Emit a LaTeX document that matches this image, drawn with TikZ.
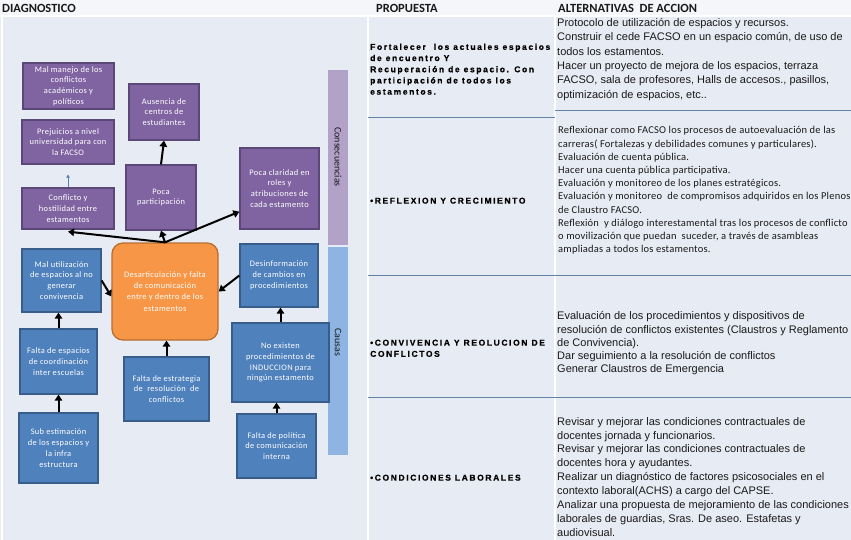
\documentclass[tikz,border=0pt]{standalone}
\usepackage{fontspec}
\setmainfont{Liberation Sans}
\newfontfamily\calfont{Carlito}
\newfontfamily\calspaced[LetterSpace=2]{Carlito}
\newfontfamily\boxfont[LetterSpace=4]{Carlito}
\newfontfamily\propfont[LetterSpace=19, FakeBold=0.5]{Liberation Sans Bold}
\usetikzlibrary{arrows.meta, positioning, calc}

\definecolor{bodybg}{RGB}{231,235,243}
\definecolor{headbg}{RGB}{245,246,249}
\definecolor{purplefill}{RGB}{128,100,162}
\definecolor{purpledraw}{RGB}{92,72,120}
\definecolor{bluefill}{RGB}{79,129,189}
\definecolor{bluedraw}{RGB}{56,93,138}
\definecolor{orangefill}{RGB}{247,150,70}
\definecolor{orangedraw}{RGB}{185,110,50}
\definecolor{lavbar}{RGB}{179,162,199}
\definecolor{bluebar}{RGB}{141,180,226}
\definecolor{rowline}{RGB}{100,130,165}
\definecolor{linkblue}{RGB}{84,128,180}
\definecolor{headdark}{RGB}{25,25,25}

\begin{document}
\begin{tikzpicture}[
    x=1pt, y=-1pt,
    every node/.style={inner sep=0pt},
    conbox/.style={
        rectangle,
        draw=purpledraw,
        fill=purplefill,
        line width=1.3pt,
        text=white,
        align=center,
        font=\boxfont\fontsize{8.4}{10.8}\selectfont
    },
    caubox/.style={
        rectangle,
        draw=bluedraw,
        fill=bluefill,
        line width=1.3pt,
        text=white,
        align=center,
        font=\boxfont\fontsize{8.4}{10.8}\selectfont
    },
    corebox/.style={
        rectangle,
        rounded corners=11pt,
        draw=orangedraw,
        fill=orangefill,
        line width=1.3pt,
        text=white,
        align=center,
        font=\boxfont\fontsize{8.4}{11.2}\selectfont
    },
    causearrow/.style={-{Triangle[length=6pt,width=7.5pt]}, line width=2pt, black},
    linkarrow/.style={-{Triangle[length=3pt,width=3.5pt]}, line width=1pt, linkblue},
    headtext/.style={anchor=base west, text=headdark,
        font=\calfont\bfseries\fontsize{12.5}{14}\selectfont},
    barlabel/.style={rotate=-90, text=headdark, font=\calfont\fontsize{10}{12}\selectfont},
    proptext/.style={anchor=north west, align=left, text=black,
        font=\propfont\fontsize{8.5}{11.2}\selectfont},
    alttext/.style={anchor=north west, align=left, text=black!90},
    sepline/.style={white, line width=1.5pt},
    rowrule/.style={rowline, line width=0.9pt}
]

% background and table
\useasboundingbox (0,0) rectangle (851,540);
\fill[bodybg] (0,0) rectangle (851,540);
\fill[headbg] (0,0) rectangle (851,16);
\draw[sepline] (0,16) -- (851,16);
\draw[sepline] (2,16) -- (2,540);
\draw[sepline] (368,16) -- (368,540);
\draw[sepline] (555,16) -- (555,540);
\draw[rowrule] (368,117) -- (555,117);
\draw[rowrule] (555,110) -- (851,110);
\draw[rowrule] (368,275) -- (851,275);
\draw[rowrule] (368,397) -- (851,397);

\node[headtext] (diaghead) at (2,13) {DIAGNOSTICO};
\node[headtext] (prophead) at (376,13) {PROPUESTA};
\node[headtext] (althead) at (558,13) {ALTERNATIVAS\ \ DE ACCION};

% side bars
\fill[lavbar] (328,70) rectangle (348,245);
\fill[bluebar] (328,247) rectangle (348,455);
\node[barlabel] (conlabel) at (338,157) {Consecuencias};
\node[barlabel] (caulabel) at (338,342) {Causas};

% consequences
\node[conbox, minimum width=91pt, minimum height=46pt] (manejo) at (68.5,86)
    {Mal manejo de los\\conflictos\\académicos y\\políticos};
\node[conbox, minimum width=70pt, minimum height=56pt] (ausencia) at (164,112)
    {Ausencia de\\centros de\\estudiantes};
\node[conbox, minimum width=92pt, minimum height=44pt] (prejuicios) at (68,142)
    {Prejuicios a nivel\\universidad para con\\la FACSO};
\node[conbox, minimum width=92pt, minimum height=41pt] (conflicto) at (68,208.5)
    {Conflicto y\\hostilidad entre\\estamentos};
\node[conbox, minimum width=70pt, minimum height=65pt] (participacion) at (161,197.5)
    {Poca\\participación};
\node[conbox, minimum width=79pt, minimum height=81pt] (claridad) at (279.5,188.5)
    {Poca claridad en\\roles y\\atribuciones de\\cada estamento};

% core problem
\node[corebox, minimum width=106pt, minimum height=97pt] (core) at (165,291.5)
    {Desarticulación y falta\\de comunicación\\entre y dentro de los\\estamentos};

% causes
\node[caubox, minimum width=79pt, minimum height=63pt] (malutil) at (61.5,280.5)
    {Mal utilización\\de espacios al no\\generar\\convivencia};
\node[caubox, minimum width=77pt, minimum height=65pt] (coordina) at (58.5,361.5)
    {Falta de espacios\\de coordinación\\inter escuelas};
\node[caubox, minimum width=79pt, minimum height=70pt] (subestima) at (58.5,448)
    {Sub estimación\\de los espacios y\\la infra\\estructura};
\node[caubox, minimum width=85pt, minimum height=64pt] (estrategia) at (166.5,389)
    {Falta de estrategia\\de\ \ resolución\ \ de\\conflictos};
\node[caubox, minimum width=78pt, minimum height=63pt] (desinfo) at (279,275.5)
    {Desinformación\\de cambios en\\procedimientos};
\node[caubox, minimum width=97pt, minimum height=79pt] (induccion) at (280.5,362.5)
    {No existen\\procedimientos de\\INDUCCION para\\ningún estamento};
\node[caubox, minimum width=79pt, minimum height=64pt] (politica) at (276.5,446)
    {Falta de política\\de comunicación\\interna};

% arrows
\draw[causearrow] (core.north) -- (participacion.south);
\draw[causearrow] (core.north) -- ([yshift=-2pt]conflicto.south);
\draw[causearrow] (core.north) -- (claridad.210);
\draw[causearrow] (participacion.north) -- (ausencia.south);
\draw[linkarrow] (conflicto.north) -- ([yshift=-10pt]prejuicios.south);
\draw[causearrow] (malutil.east) -- ([yshift=-5pt]core.west);
\draw[causearrow] (desinfo.west) -- (core.east);
\draw[causearrow] (estrategia.north) -- (estrategia.north |- core.south);
\draw[causearrow] (coordina.north) -- (coordina.north |- malutil.south);
\draw[causearrow] (subestima.north) -- (coordina.south);
\draw[causearrow] (induccion.north) -- (induccion.north |- desinfo.south);
\draw[causearrow] (politica.north) -- (politica.north |- induccion.south);

% proposals
\node[proptext] (fortalecer) at (370,43.5)
    {Fortalecer\ \ los actuales espacios\\de encuentro Y\\Recuperación de espacio. Con\\participación de todos los\\estamentos.};
\node[proptext] (reflexion) at (370,197.5) {•REFLEXION Y CRECIMIENTO};
\node[proptext] (convivencia) at (370,339.5)
    {•CONVIVENCIA Y REOLUCION DE\\CONFLICTOS};
\node[proptext] (laborales) at (370,474.5) {•CONDICIONES LABORALES};

% actions
\node[alttext, font=\fontsize{11}{14.4}\selectfont] (espacios) at (557,18)
    { Protocolo de utilización de espacios y recursos.\\
    Construir el cede FACSO en un espacio común, de uso de\\
    todos los estamentos.\\
    Hacer un proyecto de mejora de los espacios, terraza\\
    FACSO, sala de profesores, Halls de accesos., pasillos,\\
    optimización de espacios, etc..};
\node[alttext, font=\calspaced\fontsize{10.5}{13.2}\selectfont] (reflexiones) at (558,126.5)
    {Reflexionar como FACSO los procesos de autoevaluación de las\\
    carreras( Fortalezas y debilidades comunes y particulares).\\
    Evaluación de cuenta pública.\\
    Hacer una cuenta pública participativa.\\
    Evaluación y monitoreo de los planes estratégicos.\\
    Evaluación y monitoreo\ \ de compromisos adquiridos en los Plenos\\
    de Claustro FACSO.\\
    Reflexión\ \ y diálogo interestamental tras los procesos de conflicto\\
    o movilización que puedan\ \ suceder, a través de asambleas\\
    ampliadas a todos los estamentos.};
\node[alttext, font=\fontsize{11}{13.25}\selectfont] (resolucion) at (557,311.5)
    {Evaluación de los procedimientos y dispositivos de\\
    resolución de conflictos existentes (Claustros y Reglamento\\
    de Convivencia).\\
    Dar seguimiento a la resolución de conflictos\\
    Generar Claustros de Emergencia};
\node[alttext, font=\fontsize{11}{13.9}\selectfont] (contratos) at (557,417)
    {Revisar y mejorar las condiciones contractuales de\\
    docentes jornada y funcionarios.\\
    Revisar y mejorar las condiciones contractuales de\\
    docentes hora y ayudantes.\\
    Realizar un diagnóstico de factores psicosociales en el\\
    contexto laboral(ACHS) a cargo del CAPSE.\\
    Analizar una propuesta de mejoramiento de las condiciones\\
    laborales de guardias, Sras. De aseo. Estafetas y\\
    audiovisual.};

\end{tikzpicture}
\end{document}
